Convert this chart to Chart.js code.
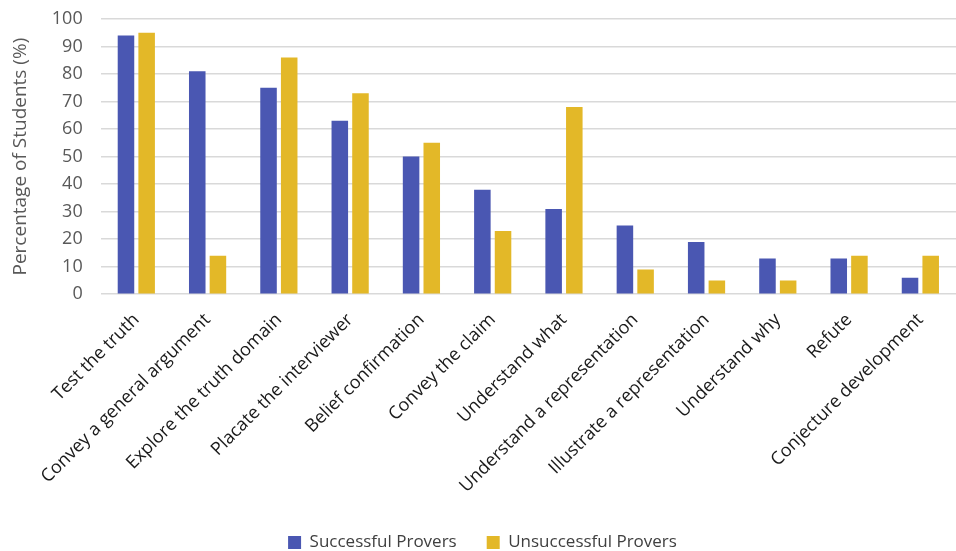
<!DOCTYPE html>
<html>
<head>
<meta charset="utf-8">
<script src="https://cdn.jsdelivr.net/npm/chart.js@4"></script>
<style>
  html, body { margin: 0; padding: 0; background: #fff; }
  #wrap { width: 956px; height: 551px; position: relative; }
</style>
</head>
<body>
<div id="wrap"><canvas id="chart"></canvas></div>
<script>
// categories (reasons for proving)
const categories = [
    'Test the truth', 'Convey a general argument', 'Explore the truth domain',
    'Placate the interviewer', 'Belief confirmation', 'Convey the claim',
    'Understand what', 'Understand a representation', 'Illustrate a representation',
    'Understand why', 'Refute', 'Conjecture development'
];
const successful = [94, 81, 75, 63, 50, 38, 31, 25, 19, 13, 13, 6];
const unsuccessful = [95, 14, 86, 73, 55, 23, 68, 9, 5, 5, 14, 14];
const yTicks = [0, 10, 20, 30, 40, 50, 60, 70, 80, 90, 100];

const fontFamily = '"Open Sans", "Liberation Sans", sans-serif';

new Chart(document.getElementById('chart'), {
    type: 'bar',
    data: {
        labels: categories,
        datasets: [
            {
                label: 'Successful Provers',
                data: successful,
                backgroundColor: '#4a57b2',
                barPercentage: 0.8,
                categoryPercentage: 0.58
            },
            {
                label: 'Unsuccessful Provers',
                data: unsuccessful,
                backgroundColor: '#e3b828',
                barPercentage: 0.8,
                categoryPercentage: 0.58
            }
        ]
    },
    options: {
        responsive: true,
        maintainAspectRatio: false,
        animation: false,
        layout: { padding: { left: 9, right: 0, top: 0, bottom: -10 } },
        scales: {
            x: {
                grid: { display: false },
                border: { display: false },
                ticks: {
                    color: '#1a1a1a',
                    font: { family: fontFamily, size: 18 },
                    minRotation: 45,
                    maxRotation: 45,
                    autoSkip: false,
                    padding: 7
                }
            },
            y: {
                min: 0,
                max: 100,
                afterBuildTicks: axis => { axis.ticks = yTicks.map(v => ({ value: v })); },
                // tick padding is horizontal here, keep it from pushing the top down
                afterFit: axis => { axis.paddingTop = 19; },
                grid: { color: '#d9d9d9', lineWidth: 1.5, drawTicks: false },
                border: { display: false },
                ticks: {
                    color: '#595959',
                    font: { family: fontFamily, size: 18 },
                    padding: 18
                },
                title: {
                    display: true,
                    text: 'Percentage of Students (%)',
                    color: '#595959',
                    font: { family: fontFamily, size: 19 },
                    padding: { top: 0, bottom: 2 }
                }
            }
        },
        plugins: {
            legend: {
                position: 'bottom',
                labels: {
                    color: '#404040',
                    font: { family: fontFamily, size: 17 },
                    boxWidth: 13,
                    boxHeight: 13,
                    padding: 30
                }
            },
            tooltip: { enabled: false }
        }
    }
});
</script>
</body>
</html>
